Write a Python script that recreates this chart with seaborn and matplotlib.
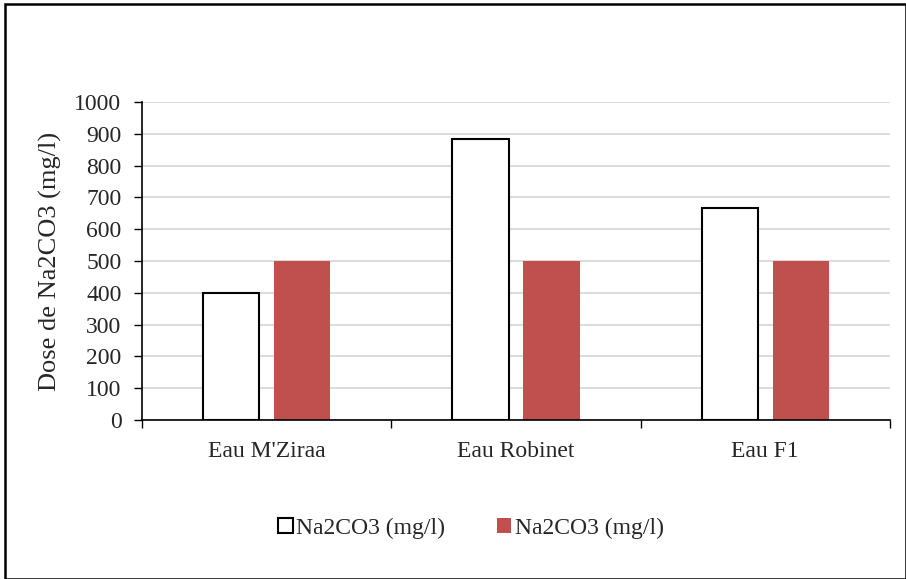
import matplotlib
matplotlib.use("Agg")
import matplotlib.pyplot as plt
import seaborn as sns
import pandas as pd
from matplotlib.patches import Rectangle, Patch

categories = ["Eau M'Ziraa", "Eau Robinet", "Eau F1"]
series_names = ["Na2CO3 (mg/l) ", "Na2CO3 (mg/l)"]
series1 = [398, 884, 667]
series2 = [500, 500, 500]
yticks = [0, 100, 200, 300, 400, 500, 600, 700, 800, 900, 1000]

df = pd.DataFrame({
    "cat": categories * 2,
    "series": [series_names[0]] * 3 + [series_names[1]] * 3,
    "val": series1 + series2,
})

sns.set_theme(style="white")
plt.rcParams['font.family'] = ['Liberation Serif', 'DejaVu Serif']

fig = plt.figure(figsize=(9.06, 5.79), dpi=100)
ax = fig.add_axes([0.157, 0.2746, 0.825, 0.5492])

palette = {series_names[0]: "white", series_names[1]: "#C0504D"}
sns.barplot(data=df, x="cat", y="val", hue="series", palette=palette,
            width=0.57, gap=0.21, ax=ax, legend=False, saturation=1)

for i, p in enumerate(ax.patches[:3]):
    p.set_edgecolor("black")
    p.set_linewidth(1.5)
for p in ax.patches[3:6]:
    p.set_edgecolor("none")

ax.set_ylim(0, 1000)
ax.set_xlim(-0.5, 2.5)
ax.set_yticks(yticks)
ax.set_yticklabels([str(v) for v in yticks], fontsize=17)
ax.yaxis.grid(True, color="#d9d9d9", linewidth=1.3)
ax.set_axisbelow(True)

ax.set_xticks([-0.5, 0.5, 1.5, 2.5])
ax.set_xticklabels([])
ax.set_xticks([0, 1, 2], minor=True)
ax.set_xticklabels(categories, minor=True, fontsize=17)
ax.tick_params(axis="x", which="major", direction="out", length=6, width=1, color="black", bottom=True)
ax.tick_params(axis="x", which="minor", length=0, pad=15)
ax.tick_params(axis="y", direction="out", length=6, width=1, color="black", left=True, pad=9)

for s in ["top", "right"]:
    ax.spines[s].set_visible(False)
for s in ["left", "bottom"]:
    ax.spines[s].set_color("black")
    ax.spines[s].set_linewidth(1.2)

ax.set_xlabel("")
ax.set_ylabel("Dose de Na2CO3 (mg/l)", fontsize=19, labelpad=9)

handles = [Patch(facecolor="white", edgecolor="black", linewidth=1.5),
           Patch(facecolor="#C0504D", edgecolor="none")]
fig.legend(handles, ["Na2CO3 (mg/l)", "Na2CO3 (mg/l)"], loc="center",
           bbox_to_anchor=(0.52, 0.088), ncol=2, frameon=False, fontsize=17,
           handlelength=0.6, handleheight=0.6, handletextpad=0.15, columnspacing=2.2)

fig.patches.append(Rectangle((0.005, 0.0), 0.995, 0.993, transform=fig.transFigure,
                             fill=False, edgecolor="black", linewidth=1.8))

fig.savefig("out.png", dpi=100, facecolor="white")
